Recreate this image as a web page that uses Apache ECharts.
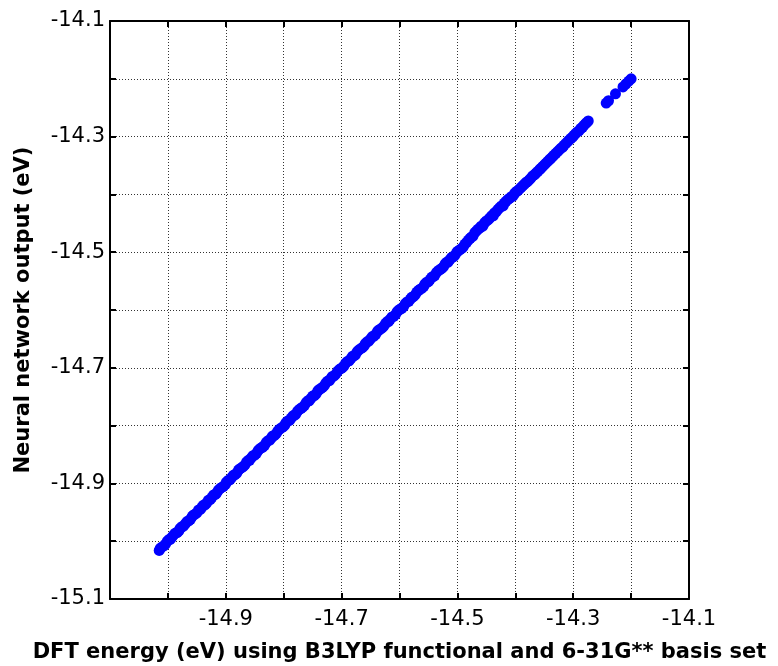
<!DOCTYPE html>
<html>
<head>
<meta charset="utf-8">
<script src="https://cdn.jsdelivr.net/npm/echarts@6/dist/echarts.min.js"></script>
<style>
  html, body { margin: 0; padding: 0; background: #fff; }
  #main { width: 778px; height: 666px; }
</style>
</head>
<body>
<div id="main"></div>
<script>
// DFT energy (x) vs neural network output (y), eV -- two batches of samples
var dftEnergy = [
  -15.015, -15.010, -15.004, -14.998, -14.993, -14.987, -14.981, -14.976, -14.970, -14.964,
  -14.958, -14.953, -14.947, -14.941, -14.936, -14.930, -14.924, -14.918, -14.913, -14.907,
  -14.901, -14.896, -14.890, -14.884, -14.878, -14.873, -14.867, -14.861, -14.856, -14.850,
  -14.844, -14.838, -14.833, -14.827, -14.821, -14.816, -14.810, -14.804, -14.798, -14.793,
  -14.787, -14.781, -14.776, -14.770, -14.764, -14.758, -14.753, -14.747, -14.741, -14.736,
  -14.730, -14.724, -14.718, -14.713, -14.707, -14.701, -14.696, -14.690, -14.684, -14.678,
  -14.673, -14.667, -14.661, -14.656, -14.650, -14.644, -14.638, -14.633, -14.627, -14.621,
  -14.616, -14.610, -14.604, -14.598, -14.593, -14.587, -14.581, -14.576, -14.570, -14.564,
  -14.558, -14.553, -14.547, -14.541, -14.536, -14.530, -14.524, -14.518, -14.513, -14.507,
  -14.501, -14.496, -14.490, -14.484, -14.478, -14.473, -14.467, -14.461, -14.456, -14.450,
  -14.444, -14.438, -14.433, -14.427, -14.421, -14.416, -14.410, -14.404, -14.398, -14.393,
  -14.387, -14.381, -14.376, -14.370, -14.364, -14.358, -14.353, -14.347, -14.341, -14.336,
  -14.330, -14.324, -14.318, -14.313, -14.307, -14.301, -14.296, -14.290, -14.284, -14.279,
  -14.274, -14.243, -14.239, -14.227, -14.214, -14.209, -14.204, -14.200
];
var nnOutput = [
  -15.016, -15.010, -15.005, -14.997, -14.993, -14.986, -14.982, -14.975, -14.970, -14.965,
  -14.957, -14.953, -14.946, -14.941, -14.937, -14.929, -14.924, -14.919, -14.912, -14.907,
  -14.902, -14.895, -14.890, -14.885, -14.877, -14.873, -14.868, -14.860, -14.856, -14.851,
  -14.843, -14.838, -14.834, -14.826, -14.821, -14.817, -14.809, -14.804, -14.799, -14.792,
  -14.787, -14.782, -14.775, -14.770, -14.765, -14.757, -14.753, -14.748, -14.740, -14.736,
  -14.731, -14.723, -14.718, -14.714, -14.706, -14.701, -14.697, -14.689, -14.684, -14.679,
  -14.672, -14.667, -14.662, -14.655, -14.650, -14.645, -14.637, -14.633, -14.628, -14.620,
  -14.616, -14.611, -14.603, -14.598, -14.594, -14.586, -14.581, -14.577, -14.569, -14.564,
  -14.559, -14.552, -14.547, -14.542, -14.535, -14.530, -14.525, -14.517, -14.513, -14.508,
  -14.500, -14.496, -14.491, -14.483, -14.476, -14.472, -14.463, -14.458, -14.455, -14.446,
  -14.441, -14.437, -14.430, -14.423, -14.420, -14.412, -14.407, -14.403, -14.395, -14.391,
  -14.385, -14.379, -14.375, -14.368, -14.363, -14.357, -14.352, -14.346, -14.340, -14.335,
  -14.329, -14.323, -14.318, -14.312, -14.306, -14.301, -14.295, -14.290, -14.284, -14.278,
  -14.273, -14.242, -14.238, -14.226, -14.214, -14.209, -14.204, -14.200
];
var dftEnergyB = [
  -15.013, -15.007, -15.001, -14.996, -14.990, -14.984, -14.979, -14.973, -14.967,
  -14.961, -14.956, -14.950, -14.944, -14.939, -14.933, -14.927, -14.921, -14.916, -14.910,
  -14.904, -14.899, -14.893, -14.887, -14.881, -14.876, -14.870, -14.864, -14.859, -14.853,
  -14.847, -14.841, -14.836, -14.830, -14.824, -14.819, -14.813, -14.807, -14.801, -14.796,
  -14.790, -14.784, -14.779, -14.773, -14.767, -14.761, -14.756, -14.750, -14.744, -14.739,
  -14.733, -14.727, -14.721, -14.716, -14.710, -14.704, -14.699, -14.693, -14.687, -14.681,
  -14.676, -14.670, -14.664, -14.659, -14.653, -14.647, -14.641, -14.636, -14.630, -14.624,
  -14.619, -14.613, -14.607, -14.601, -14.596, -14.590, -14.584, -14.579, -14.573, -14.567,
  -14.561, -14.556, -14.550, -14.544, -14.539, -14.533, -14.527, -14.521, -14.516, -14.510,
  -14.504, -14.499, -14.493, -14.487, -14.481, -14.476, -14.470, -14.464, -14.459, -14.453,
  -14.447, -14.441, -14.436, -14.430, -14.424, -14.419, -14.413, -14.407, -14.401, -14.396,
  -14.390, -14.384, -14.379, -14.373, -14.367, -14.361, -14.356, -14.350, -14.344, -14.339,
  -14.333, -14.327, -14.321, -14.316, -14.310, -14.304, -14.299, -14.293, -14.287, -14.282, -14.277
];
var nnOutputB = [
  -15.012, -15.008, -15.000, -14.997, -14.989, -14.985, -14.978, -14.974, -14.966,
  -14.962, -14.955, -14.951, -14.945, -14.938, -14.934, -14.928, -14.920, -14.917, -14.909,
  -14.905, -14.898, -14.894, -14.886, -14.882, -14.875, -14.871, -14.863, -14.860, -14.852,
  -14.848, -14.840, -14.837, -14.829, -14.825, -14.818, -14.814, -14.806, -14.802, -14.795,
  -14.791, -14.783, -14.780, -14.772, -14.768, -14.760, -14.757, -14.749, -14.745, -14.738,
  -14.734, -14.726, -14.722, -14.715, -14.711, -14.703, -14.700, -14.692, -14.688, -14.680,
  -14.677, -14.669, -14.665, -14.658, -14.654, -14.646, -14.642, -14.635, -14.631, -14.623,
  -14.620, -14.612, -14.608, -14.600, -14.597, -14.589, -14.585, -14.578, -14.574, -14.566,
  -14.562, -14.555, -14.551, -14.543, -14.540, -14.532, -14.528, -14.520, -14.517, -14.509,
  -14.505, -14.498, -14.494, -14.486, -14.479, -14.474, -14.466, -14.460, -14.455, -14.449,
  -14.444, -14.437, -14.432, -14.426, -14.420, -14.415, -14.409, -14.404, -14.398, -14.394,
  -14.388, -14.382, -14.378, -14.372, -14.366, -14.360, -14.355, -14.349, -14.343, -14.338,
  -14.332, -14.326, -14.320, -14.315, -14.309, -14.303, -14.298, -14.292, -14.286, -14.281, -14.276
];

var axisMin = -15.1;
var axisMax = -14.1;
var tickStep = 0.1;

var points = dftEnergy.map(function (x, i) { return [x, nnOutput[i]]; })
  .concat(dftEnergyB.map(function (x, i) { return [x, nnOutputB[i]]; }));

function labelFor(skipFirst) {
  return function (v) {
    var k = Math.round((v - axisMin) / tickStep);
    if (k % 2 !== 0) return '';
    if (skipFirst && k === 0) return '';
    return v.toFixed(1);
  };
}

var font = "'DejaVu Sans', Arial, sans-serif";
var blackLine = { lineStyle: { color: '#000', width: 2 } };
var innerTick = { show: true, inside: true, length: 6, lineStyle: { color: '#000', width: 2 } };
var dotted = { show: true, lineStyle: { color: '#333', width: 1, type: [1, 2] } };

var chart = echarts.init(document.getElementById('main'));
chart.setOption({
  animation: false,
  backgroundColor: '#fff',
  grid: { left: 110, top: 21, width: 579, height: 578, containLabel: false, outerBoundsMode: 'none' },
  xAxis: [{
    type: 'value', min: axisMin, max: axisMax, interval: tickStep,
    axisLine: blackLine, axisTick: innerTick, splitLine: dotted,
    axisLabel: { formatter: labelFor(true), color: '#000', fontSize: 21, fontFamily: font, margin: 10 },
    name: 'DFT energy (eV) using B3LYP functional and 6-31G** basis set',
    nameLocation: 'middle', nameGap: 43,
    nameTextStyle: { color: '#000', fontSize: 21, fontWeight: 'bold', fontFamily: font }
  }, {
    type: 'value', position: 'top', min: axisMin, max: axisMax, interval: tickStep,
    axisLine: blackLine, axisTick: innerTick, splitLine: { show: false }, axisLabel: { show: false }
  }],
  yAxis: [{
    type: 'value', min: axisMin, max: axisMax, interval: tickStep,
    axisLine: blackLine, axisTick: innerTick, splitLine: dotted,
    axisLabel: { formatter: labelFor(false), color: '#000', fontSize: 21, fontFamily: font, margin: 5 },
    name: 'Neural network output (eV)',
    nameLocation: 'middle', nameGap: 76, nameRotate: 90,
    nameTextStyle: { color: '#000', fontSize: 21, fontWeight: 'bold', fontFamily: font }
  }, {
    type: 'value', position: 'right', min: axisMin, max: axisMax, interval: tickStep,
    axisLine: blackLine, axisTick: innerTick, splitLine: { show: false }, axisLabel: { show: false }
  }],
  series: [{
    type: 'scatter',
    xAxisIndex: 0, yAxisIndex: 0,
    data: points,
    symbol: 'circle',
    symbolSize: 11,
    itemStyle: { color: '#0000ff', opacity: 1 }
  }]
});
</script>
</body>
</html>
